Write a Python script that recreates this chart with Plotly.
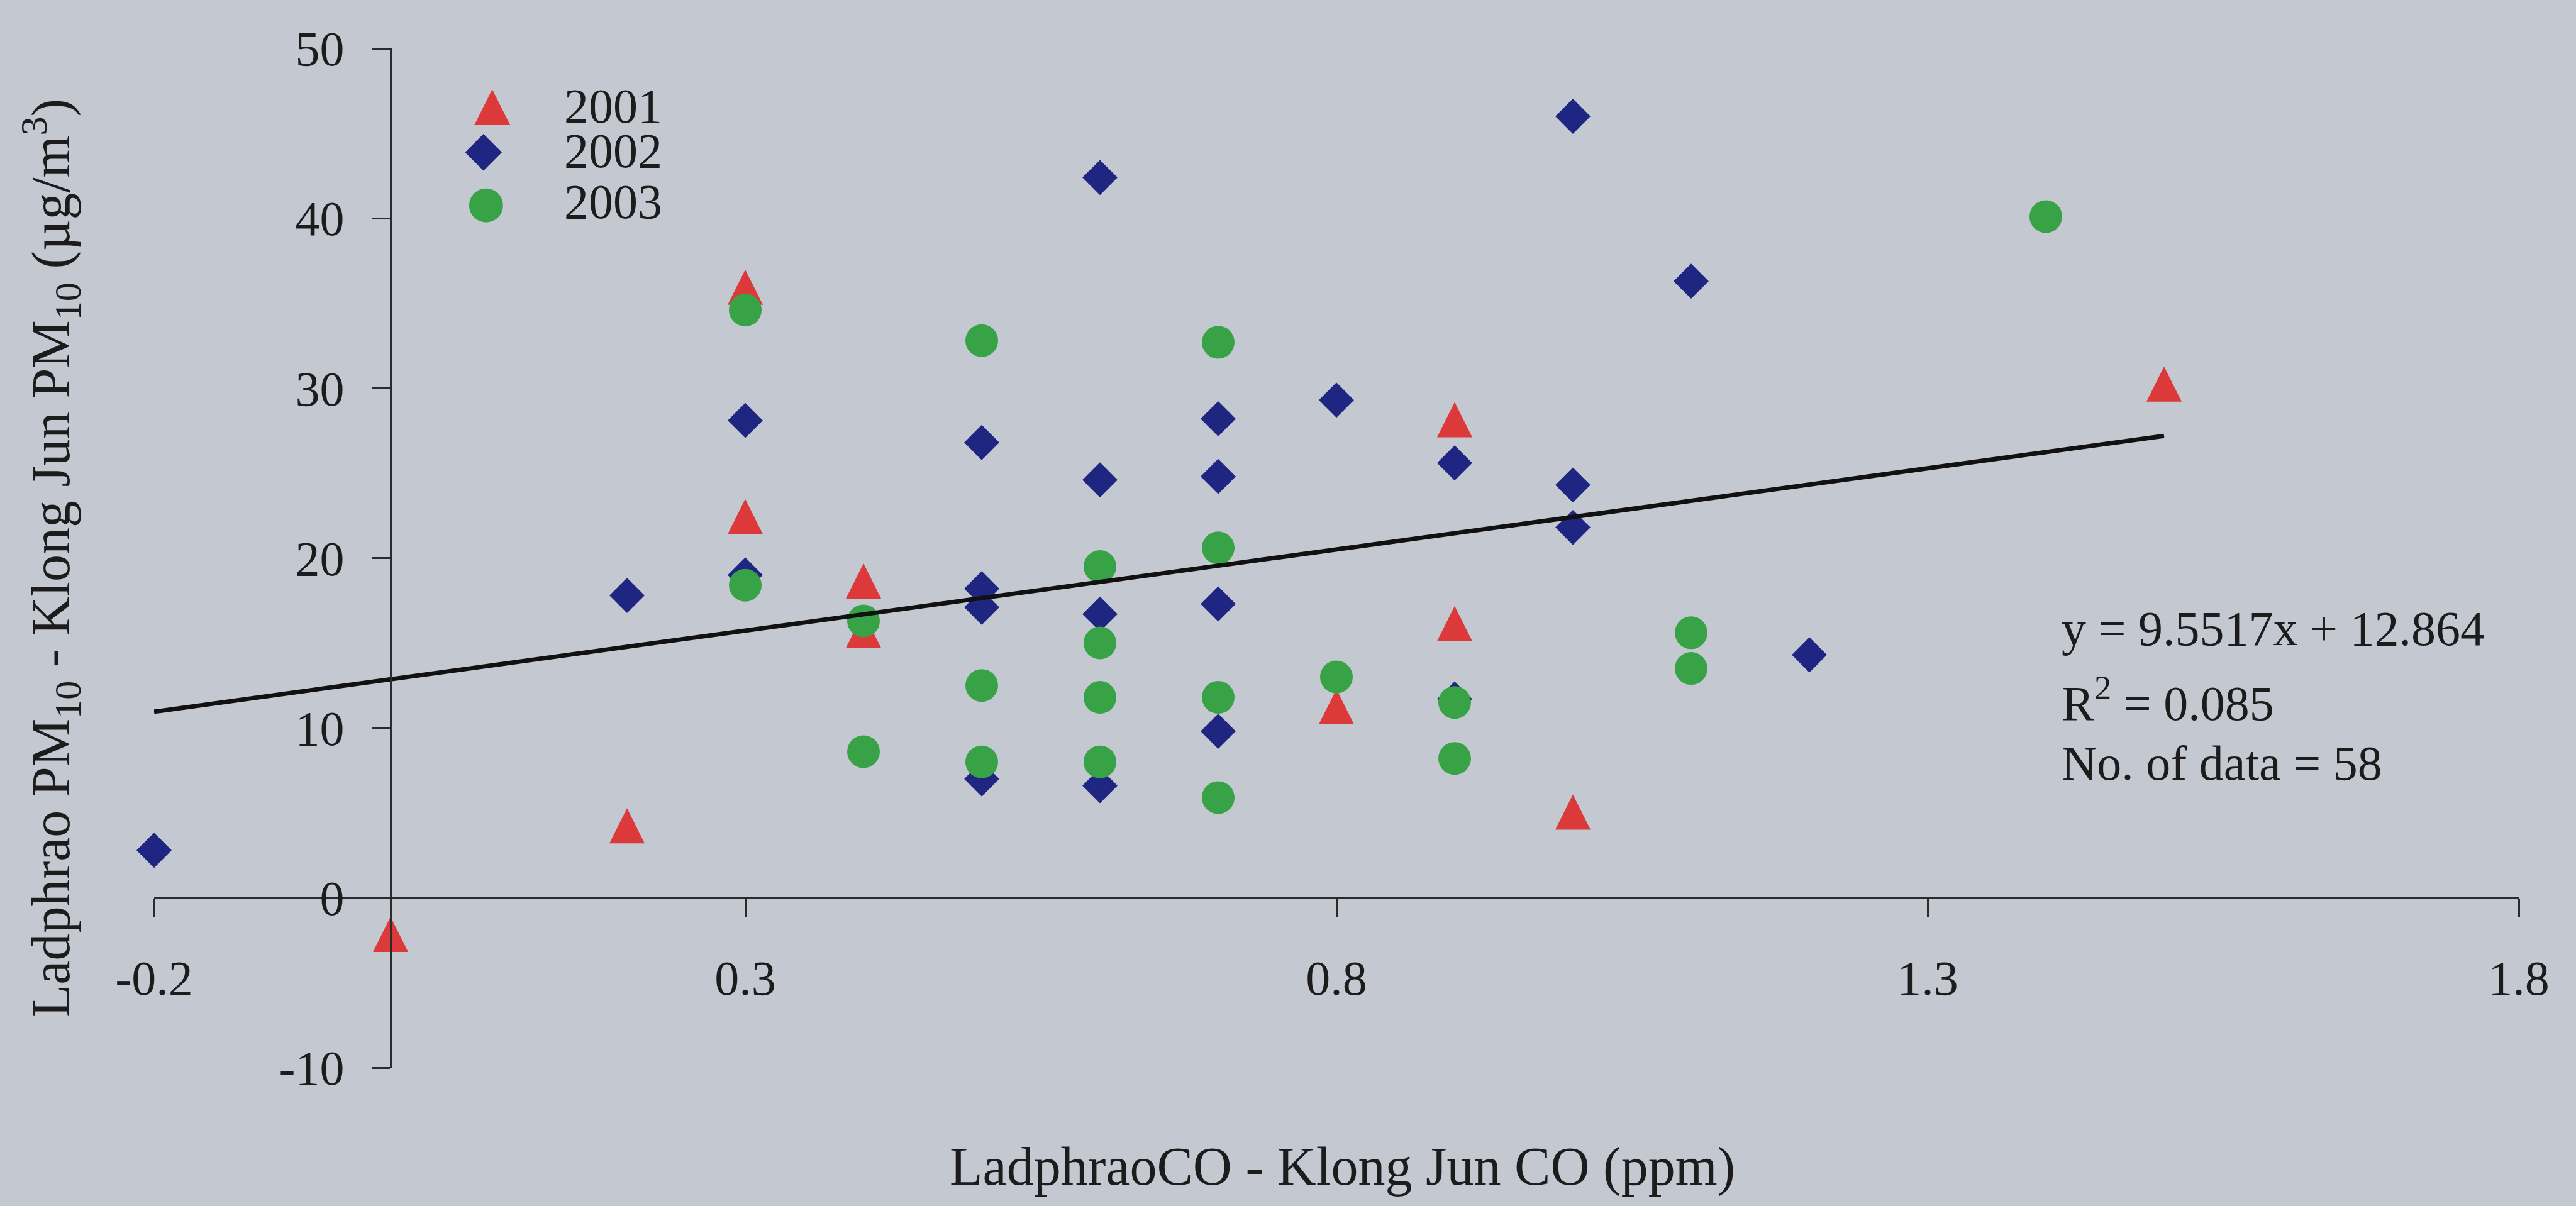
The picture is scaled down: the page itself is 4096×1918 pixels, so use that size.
import plotly.graph_objects as go

# Ladphrao minus Klong Jun: CO difference (ppm) vs PM10 difference (µg/m³)
years = ["2001", "2002", "2003"]

x_2001 = [0.0, 0.2, 0.3, 0.3, 0.4, 0.4, 0.8, 0.9, 0.9, 1.0, 1.5]
y_2001 = [-2.5, 3.9, 35.6, 22.1, 18.3, 15.4, 10.9, 27.8, 15.8, 4.7, 29.9]

x_2002 = [-0.2, 0.2, 0.3, 0.3, 0.5, 0.5, 0.5, 0.5, 0.6, 0.6, 0.6, 0.6,
          0.7, 0.7, 0.7, 0.7, 0.8, 0.9, 0.9, 1.0, 1.0, 1.0, 1.1, 1.2]
y_2002 = [2.8, 17.8, 28.1, 19.0, 26.8, 18.2, 17.1, 7.0, 42.4, 24.6, 16.7, 6.6,
          28.2, 24.8, 17.3, 9.8, 29.3, 25.6, 11.7, 46.0, 24.3, 21.8, 36.3, 14.3]

x_2003 = [0.3, 0.3, 0.4, 0.4, 0.5, 0.5, 0.5, 0.6, 0.6, 0.6, 0.6,
          0.7, 0.7, 0.7, 0.7, 0.8, 0.9, 0.9, 1.1, 1.1, 1.4]
y_2003 = [34.6, 18.4, 16.3, 8.6, 32.8, 12.5, 8.0, 19.5, 15.0, 11.8, 8.0,
          32.7, 20.6, 11.8, 5.9, 13.0, 11.5, 8.2, 15.6, 13.5, 40.1]

# linear fit reported for the pooled data
fit_slope = 9.5517
fit_intercept = 12.864
fit_r2 = "0.085"
n_data = 58

x_ticks = [-0.2, 0.3, 0.8, 1.3, 1.8]
x_tick_text = ["-0.2", "0.3", "0.8", "1.3", "1.8"]
y_ticks = [-10, 0, 10, 20, 30, 40, 50]
y_tick_text = ["-10", "0", "10", "20", "30", "40", "50"]

BG = "#c4c8d0"
AX = "#2b2b2b"
TXT = "#1c1c1c"
RED = "#dc3a3a"
BLUE = "#1f2682"
GREEN = "#38a346"
FONT = "Liberation Serif"

TRI = 56      # triangle width/height in px
TRI_OFF = TRI * 2 / 3  # shifts the arrow glyph so its centroid sits on the point

fig = go.Figure()

series = [
    (x_2001, y_2001, dict(symbol="arrow-down", angle=180, standoff=TRI_OFF, size=TRI, color=RED)),
    (x_2002, y_2002, dict(symbol="diamond", size=43, color=BLUE)),
    (x_2003, y_2003, dict(symbol="circle", size=52, color=GREEN)),
]
for (xs, ys, mk), yr in zip(series, years):
    fig.add_trace(go.Scatter(x=xs, y=ys, mode="markers", name=yr,
                             marker=dict(line=dict(width=0), **mk),
                             cliponaxis=False, showlegend=False))

# trend line over the span of the observations
all_x = x_2001 + x_2002 + x_2003
fit_x = [min(all_x), max(all_x)]
fit_y = [fit_slope * v + fit_intercept for v in fit_x]
fig.add_trace(go.Scatter(x=fit_x, y=fit_y, mode="lines",
                         line=dict(color="#111111", width=7),
                         cliponaxis=False, showlegend=False))

# key: symbols on an overlay axis spanning the plot area in 0..1 units
key_x = [0.143, 0.1393, 0.1404]
key_y = [0.9365, 0.898, 0.846]
key_text_y = [0.9433, 0.8995, 0.8495]
key_marks = [
    dict(symbol="arrow-down", angle=180, standoff=57 * 2 / 3, size=57, color=RED),
    dict(symbol="diamond", size=45, color=BLUE),
    dict(symbol="circle", size=54, color=GREEN),
]
for kx, ky, mk in zip(key_x, key_y, key_marks):
    fig.add_trace(go.Scatter(x=[kx], y=[ky], xaxis="x2", yaxis="y2", mode="markers",
                             marker=dict(line=dict(width=0), **mk),
                             cliponaxis=False, showlegend=False, hoverinfo="skip"))

annotations = []
for yr, ty in zip(years, key_text_y):
    annotations.append(dict(text=yr, xref="paper", yref="paper", x=0.173, y=ty,
                            xanchor="left", yanchor="middle", showarrow=False,
                            font=dict(size=78, family=FONT, color=TXT)))

stats_lines = [
    f"y = {fit_slope}x + {fit_intercept}",
    f"R<sup>2</sup> = {fit_r2}",
    f"No. of data = {n_data}",
]
for line, ty in zip(stats_lines, [0.4306, 0.3609, 0.2986]):
    annotations.append(dict(text=line, xref="paper", yref="paper", x=0.806, y=ty,
                            xanchor="left", yanchor="middle", showarrow=False,
                            font=dict(size=78, family=FONT, color=TXT)))

annotations.append(dict(text="LadphraoCO - Klong Jun CO (ppm)", xref="paper", yref="paper",
                        x=0.5026, y=-0.0969, xanchor="center", yanchor="middle",
                        showarrow=False, font=dict(size=86, family=FONT, color=TXT)))
annotations.append(dict(text="Ladphrao PM<sub>10</sub> - Klong Jun PM<sub>10</sub> (µg/m<sup>3</sup>)",
                        xref="paper", yref="paper", x=-0.0437, y=0.5, textangle=-90,
                        xanchor="center", yanchor="middle", showarrow=False,
                        font=dict(size=86, family=FONT, color=TXT)))

axis_common = dict(showgrid=False, zeroline=False, showline=True, linecolor=AX, linewidth=3,
                   ticks="outside", ticklen=29, tickwidth=3, tickcolor=AX,
                   tickfont=dict(size=78, family=FONT, color=TXT))

fig.update_layout(
    width=4096, height=1918,
    margin=dict(l=245, r=91, t=77, b=220),
    paper_bgcolor=BG, plot_bgcolor=BG,
    showlegend=False,
    font=dict(family=FONT, size=78, color=TXT),
    xaxis=dict(range=[-0.2, 1.8], tickvals=x_ticks, ticktext=x_tick_text,
               anchor="free", position=10 / 60, ticklabelstandoff=30, **axis_common),
    yaxis=dict(range=[-10, 50], tickvals=y_ticks, ticktext=y_tick_text,
               anchor="free", position=0.1, ticklabelstandoff=28, **axis_common),
    xaxis2=dict(range=[0, 1], overlaying="x", anchor="y2", visible=False),
    yaxis2=dict(range=[0, 1], overlaying="y", anchor="x2", visible=False),
    annotations=annotations,
)

fig.write_html("out.html")
